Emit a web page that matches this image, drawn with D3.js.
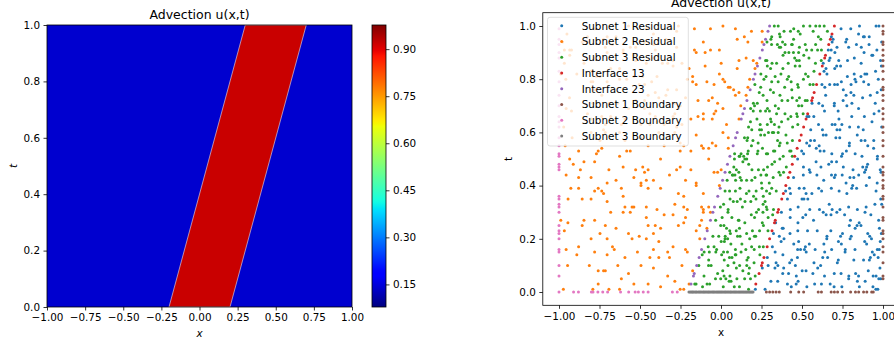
<!DOCTYPE html>
<html>
<head>
<meta charset="utf-8">
<script src="https://cdn.jsdelivr.net/npm/d3@7"></script>
<style>
  html, body { margin: 0; padding: 0; background: #ffffff; }
  svg { display: block; font-family: "DejaVu Sans", "Noto Sans", sans-serif; }
</style>
</head>
<body>
<svg id="fig" width="894" height="340"></svg>
<script>
// ---------------- data ----------------
const chartTitle = "Advection u(x,t)";
const xTicks = [-1, -0.75, -0.5, -0.25, 0, 0.25, 0.5, 0.75, 1];
const tTicks = [0, 0.2, 0.4, 0.6, 0.8, 1];
const colorbarTicks = [0.15, 0.30, 0.45, 0.60, 0.75, 0.90];
const colorRange = [0.078, 0.977];

// u(x,t): a square pulse advected to the right
const uBackground = 0.14;
const uPulse = 0.92;
const pulseCorners = [[-0.2, 0], [0.2, 0], [0.7, 1], [0.3, 1]];

// collocation points, [x, t]
const subnet1Residual = [
[0.212,0.01],[0.272,0.01],[0.308,0.04],[0.35,0.04],[0.41,0.03],[0.434,0.02],[0.464,0.03],[0.476,0.04],[0.53,0.02],[0.578,0.03],[0.62,0.03],[0.674,0.03],[0.698,0.02],[0.746,0.02],[0.788,0.05],[0.842,0.04],[0.854,0.02],[0.89,0.04],[0.938,0.02],[0.956,0.01],[0.968,0.01],[0.974,0.05],[0.986,0.05],
[0.255,0.09],[0.291,0.1],[0.333,0.09],[0.351,0.1],[0.381,0.07],[0.387,0.09],[0.417,0.07],[0.459,0.1],[0.465,0.06],[0.501,0.08],[0.525,0.08],[0.567,0.07],[0.597,0.09],[0.615,0.1],[0.639,0.06],[0.699,0.07],[0.741,0.07],[0.789,0.06],[0.831,0.07],[0.849,0.06],[0.909,0.08],[0.939,0.06],[0.957,0.06],[0.981,0.09],
[0.286,0.13],[0.334,0.15],[0.34,0.11],[0.382,0.14],[0.424,0.11],[0.436,0.12],[0.472,0.13],[0.526,0.15],[0.574,0.11],[0.628,0.13],[0.64,0.15],[0.658,0.13],[0.718,0.11],[0.724,0.12],[0.766,0.15],[0.82,0.12],[0.88,0.12],[0.916,0.12],[0.922,0.13],[0.934,0.15],[0.946,0.14],[0.97,0.13],
[0.317,0.17],[0.371,0.19],[0.389,0.2],[0.449,0.18],[0.473,0.16],[0.479,0.19],[0.491,0.16],[0.515,0.16],[0.521,0.17],[0.545,0.18],[0.581,0.16],[0.635,0.18],[0.653,0.2],[0.683,0.16],[0.725,0.19],[0.743,0.18],[0.767,0.16],[0.797,0.2],[0.827,0.16],[0.887,0.19],[0.899,0.18],[0.929,0.2],[0.965,0.16],[0.977,0.16],[0.983,0.19],
[0.324,0.22],[0.36,0.21],[0.378,0.24],[0.384,0.24],[0.426,0.22],[0.474,0.23],[0.534,0.23],[0.594,0.23],[0.654,0.21],[0.678,0.23],[0.738,0.21],[0.75,0.22],[0.792,0.25],[0.804,0.21],[0.828,0.24],[0.84,0.25],[0.864,0.25],[0.906,0.22],[0.918,0.21],[0.978,0.24],[0.99,0.22],
[0.337,0.26],[0.373,0.3],[0.427,0.28],[0.475,0.26],[0.505,0.28],[0.523,0.29],[0.571,0.27],[0.631,0.3],[0.649,0.29],[0.679,0.29],[0.715,0.3],[0.763,0.29],[0.799,0.27],[0.853,0.26],[0.889,0.3],[0.925,0.29],[0.973,0.27],
[0.41,0.35],[0.428,0.31],[0.476,0.32],[0.5,0.35],[0.512,0.35],[0.536,0.35],[0.548,0.31],[0.608,0.31],[0.668,0.33],[0.686,0.31],[0.734,0.31],[0.788,0.32],[0.842,0.31],[0.896,0.32],[0.95,0.33],[0.986,0.35],[0.992,0.33],
[0.399,0.38],[0.423,0.39],[0.429,0.37],[0.483,0.39],[0.513,0.39],[0.525,0.37],[0.561,0.37],[0.603,0.39],[0.621,0.38],[0.681,0.39],[0.729,0.38],[0.777,0.37],[0.807,0.39],[0.813,0.4],[0.837,0.39],[0.897,0.4],[0.957,0.38],
[0.448,0.43],[0.508,0.44],[0.55,0.45],[0.592,0.44],[0.634,0.42],[0.682,0.44],[0.7,0.43],[0.706,0.44],[0.748,0.44],[0.772,0.41],[0.796,0.43],[0.82,0.43],[0.85,0.44],[0.886,0.45],[0.916,0.43],[0.964,0.41],[0.988,0.45],
[0.473,0.5],[0.509,0.47],[0.545,0.46],[0.587,0.49],[0.617,0.47],[0.665,0.48],[0.683,0.49],[0.713,0.49],[0.755,0.47],[0.815,0.46],[0.875,0.47],[0.893,0.46],[0.899,0.47],[0.905,0.48],[0.965,0.5],[0.983,0.46],
[0.498,0.53],[0.51,0.52],[0.546,0.55],[0.588,0.54],[0.606,0.55],[0.612,0.53],[0.636,0.53],[0.684,0.52],[0.744,0.51],[0.75,0.52],[0.774,0.53],[0.792,0.55],[0.828,0.52],[0.87,0.51],[0.906,0.55],[0.942,0.54],[0.966,0.51],
[0.529,0.56],[0.553,0.57],[0.577,0.57],[0.631,0.59],[0.649,0.59],[0.709,0.58],[0.733,0.58],[0.793,0.56],[0.841,0.59],[0.865,0.57],[0.889,0.57],[0.943,0.57],
[0.554,0.61],[0.602,0.63],[0.626,0.61],[0.686,0.63],[0.704,0.63],[0.716,0.61],[0.728,0.65],[0.734,0.61],[0.746,0.63],[0.794,0.62],[0.848,0.62],[0.878,0.61],[0.932,0.64],[0.992,0.62],
[0.531,0.66],[0.543,0.66],[0.573,0.66],[0.627,0.7],[0.639,0.68],[0.699,0.7],[0.723,0.68],[0.777,0.7],[0.807,0.66],[0.849,0.69],[0.885,0.66],[0.945,0.67],[0.975,0.68],
[0.562,0.71],[0.604,0.71],[0.646,0.74],[0.7,0.71],[0.754,0.72],[0.772,0.74],[0.802,0.75],[0.808,0.71],[0.82,0.74],[0.874,0.73],[0.922,0.74],[0.952,0.71],[0.964,0.75],
[0.623,0.78],[0.641,0.77],[0.671,0.78],[0.701,0.78],[0.719,0.78],[0.743,0.79],[0.755,0.76],[0.803,0.78],[0.827,0.8],[0.833,0.79],[0.881,0.79],[0.911,0.78],[0.971,0.8],[0.989,0.76],
[0.636,0.83],[0.648,0.84],[0.654,0.82],[0.702,0.84],[0.714,0.85],[0.738,0.85],[0.78,0.81],[0.822,0.82],[0.864,0.81],[0.888,0.82],[0.9,0.82],[0.954,0.83],[0.99,0.85],
[0.631,0.86],[0.667,0.87],[0.673,0.88],[0.703,0.9],[0.727,0.87],[0.781,0.87],[0.823,0.88],[0.865,0.86],[0.883,0.9],[0.931,0.89],[0.937,0.89],[0.985,0.87],
[0.662,0.91],[0.68,0.91],[0.686,0.94],[0.692,0.95],[0.716,0.92],[0.77,0.94],[0.776,0.95],[0.788,0.92],[0.836,0.93],[0.866,0.92],[0.914,0.93],[0.962,0.91],[0.992,0.94],
[0.681,0.96],[0.741,0.99],[0.801,0.99],[0.849,0.97],[0.855,1],[0.879,0.96],[0.885,0.96],[0.915,0.96],[0.957,1],[0.975,1]
];

const subnet2Residual = [
[-0.973,0.01],[-0.791,0.01],[-0.758,0.03],[-0.692,0.01],[-0.626,0.01],[-0.615,0.05],[-0.538,0.03],[-0.45,0.03],[-0.373,0.02],[-0.285,0.04],[-0.252,0.01],[-0.23,0.01],[-0.197,0.03],
[-0.947,0.1],[-0.813,0.1],[-0.758,0.08],[-0.725,0.08],[-0.714,0.08],[-0.637,0.1],[-0.571,0.07],[-0.494,0.1],[-0.417,0.09],[-0.329,0.06],[-0.241,0.1],[-0.175,0.08],
[-0.89,0.14],[-0.78,0.15],[-0.703,0.14],[-0.593,0.13],[-0.516,0.15],[-0.439,0.13],[-0.384,0.13],[-0.329,0.15],[-0.318,0.13],[-0.208,0.15],
[-0.956,0.16],[-0.879,0.17],[-0.802,0.2],[-0.703,0.2],[-0.67,0.17],[-0.659,0.16],[-0.549,0.2],[-0.461,0.2],[-0.417,0.16],[-0.384,0.19],[-0.296,0.17],[-0.219,0.16],[-0.131,0.2],
[-0.967,0.23],[-0.857,0.25],[-0.747,0.22],[-0.714,0.25],[-0.648,0.24],[-0.571,0.22],[-0.505,0.21],[-0.45,0.25],[-0.417,0.22],[-0.406,0.25],[-0.373,0.24],[-0.263,0.25],[-0.153,0.23],[-0.131,0.25],[-0.087,0.24],
[-0.989,0.27],[-0.945,0.26],[-0.846,0.27],[-0.78,0.27],[-0.681,0.3],[-0.604,0.3],[-0.56,0.3],[-0.461,0.28],[-0.351,0.29],[-0.296,0.29],[-0.23,0.26],[-0.219,0.28],[-0.12,0.27],[-0.109,0.3],[-0.065,0.3],
[-0.944,0.35],[-0.857,0.35],[-0.802,0.35],[-0.703,0.34],[-0.593,0.32],[-0.549,0.32],[-0.538,0.32],[-0.461,0.32],[-0.395,0.31],[-0.285,0.33],[-0.23,0.32],[-0.208,0.31],[-0.12,0.32],[-0.109,0.31],[-0.076,0.32],
[-0.927,0.39],[-0.879,0.39],[-0.78,0.38],[-0.758,0.39],[-0.736,0.38],[-0.725,0.37],[-0.615,0.39],[-0.604,0.36],[-0.494,0.4],[-0.45,0.39],[-0.373,0.39],[-0.263,0.37],[-0.23,0.36],[-0.153,0.4],[-0.109,0.37],[-0.01,0.4],
[-0.956,0.44],[-0.879,0.43],[-0.802,0.43],[-0.703,0.41],[-0.648,0.42],[-0.538,0.43],[-0.494,0.41],[-0.472,0.45],[-0.461,0.42],[-0.417,0.42],[-0.318,0.44],[-0.219,0.42],[-0.153,0.41],[-0.043,0.45],[-0.021,0.45],
[-0.934,0.5],[-0.912,0.48],[-0.868,0.46],[-0.846,0.49],[-0.78,0.49],[-0.692,0.46],[-0.604,0.47],[-0.527,0.46],[-0.483,0.47],[-0.45,0.46],[-0.373,0.5],[-0.274,0.46],[-0.252,0.47],[-0.186,0.46],[-0.076,0.5],[0.001,0.46],
[-0.962,0.55],[-0.879,0.53],[-0.769,0.52],[-0.758,0.53],[-0.736,0.54],[-0.626,0.51],[-0.582,0.53],[-0.56,0.53],[-0.45,0.55],[-0.351,0.55],[-0.252,0.53],[-0.23,0.55],[-0.186,0.53],[-0.12,0.55],[-0.109,0.54],[-0.076,0.54],[-0.032,0.55],[0.045,0.54],
[-0.919,0.58],[-0.802,0.6],[-0.747,0.57],[-0.714,0.6],[-0.626,0.6],[-0.593,0.57],[-0.494,0.58],[-0.384,0.6],[-0.285,0.6],[-0.252,0.56],[-0.153,0.59],[-0.054,0.56],[0.012,0.6],[0.045,0.58],
[-0.971,0.62],[-0.802,0.65],[-0.725,0.61],[-0.714,0.63],[-0.615,0.63],[-0.593,0.65],[-0.494,0.63],[-0.439,0.63],[-0.395,0.64],[-0.351,0.63],[-0.274,0.62],[-0.241,0.63],[-0.186,0.65],[-0.109,0.65],[-0.054,0.65],[0.034,0.63],[0.111,0.65],
[-0.956,0.69],[-0.923,0.68],[-0.824,0.67],[-0.736,0.66],[-0.681,0.66],[-0.571,0.69],[-0.472,0.69],[-0.439,0.67],[-0.406,0.66],[-0.296,0.66],[-0.285,0.67],[-0.263,0.69],[-0.252,0.7],[-0.142,0.66],[-0.109,0.67],[-0.043,0.67],[-0.032,0.68],[0.012,0.69],[0.122,0.7],
[-0.935,0.73],[-0.791,0.71],[-0.736,0.74],[-0.692,0.71],[-0.637,0.71],[-0.527,0.72],[-0.472,0.72],[-0.45,0.74],[-0.406,0.75],[-0.384,0.73],[-0.34,0.74],[-0.285,0.71],[-0.219,0.73],[-0.142,0.72],[-0.076,0.72],[-0.054,0.73],[-0.021,0.71],[0.089,0.74],[0.111,0.75],[0.155,0.74],
[-0.958,0.8],[-0.802,0.79],[-0.791,0.79],[-0.78,0.76],[-0.703,0.79],[-0.626,0.8],[-0.582,0.8],[-0.505,0.78],[-0.472,0.78],[-0.428,0.79],[-0.329,0.76],[-0.274,0.76],[-0.208,0.8],[-0.175,0.79],[-0.153,0.78],[-0.087,0.79],[-0.043,0.78],[0.012,0.8],[0.023,0.79],[0.045,0.77],[0.056,0.77],[0.078,0.76],[0.166,0.77],[0.177,0.8],
[-0.989,0.82],[-0.89,0.82],[-0.802,0.83],[-0.791,0.83],[-0.769,0.81],[-0.747,0.81],[-0.681,0.84],[-0.626,0.84],[-0.538,0.81],[-0.483,0.81],[-0.395,0.81],[-0.296,0.85],[-0.197,0.84],[-0.175,0.81],[-0.098,0.85],[-0.01,0.82],[0.1,0.84],[0.21,0.84],
[-0.967,0.86],[-0.934,0.89],[-0.846,0.86],[-0.78,0.88],[-0.703,0.9],[-0.604,0.9],[-0.538,0.89],[-0.527,0.87],[-0.461,0.86],[-0.417,0.88],[-0.362,0.86],[-0.329,0.86],[-0.296,0.87],[-0.241,0.86],[-0.153,0.9],[-0.098,0.9],[0.001,0.86],[0.111,0.87],[0.155,0.88],[0.199,0.87],[0.221,0.86],
[-0.978,0.94],[-0.967,0.91],[-0.934,0.91],[-0.923,0.91],[-0.857,0.94],[-0.824,0.94],[-0.725,0.95],[-0.714,0.92],[-0.67,0.93],[-0.648,0.95],[-0.604,0.91],[-0.56,0.92],[-0.527,0.92],[-0.472,0.94],[-0.417,0.93],[-0.406,0.91],[-0.34,0.95],[-0.274,0.92],[-0.164,0.91],[-0.109,0.94],[-0.065,0.91],[-0.01,0.91],[0.1,0.95],[0.166,0.94],[0.254,0.94],
[-0.951,0.97],[-0.824,0.96],[-0.78,0.99],[-0.703,0.96],[-0.648,0.96],[-0.571,1],[-0.461,0.99],[-0.417,0.97],[-0.307,0.99],[-0.274,0.98],[-0.263,1],[-0.164,0.99],[-0.065,0.99],[0.012,1],[0.089,0.99],[0.144,0.96],[0.188,0.98],[0.254,0.98]
];

const subnet3Residual = [
[-0.162,0.03],[-0.154,0.03],[-0.114,0.02],[-0.086,0.03],[-0.07,0.03],[-0.034,0.05],[-0.002,0.05],[0.014,0.02],[0.03,0.05],[0.05,0.04],[0.062,0.04],[0.082,0.02],[0.098,0.05],[0.114,0.02],[0.146,0.05],[0.17,0.01],[0.182,0.05],
[-0.137,0.1],[-0.105,0.06],[-0.077,0.1],[-0.061,0.1],[-0.021,0.07],[0.011,0.08],[0.019,0.06],[0.043,0.1],[0.055,0.06],[0.095,0.09],[0.115,0.1],[0.135,0.08],[0.159,0.1],[0.171,0.07],[0.175,0.09],[0.211,0.06],
[-0.116,0.14],[-0.104,0.15],[-0.076,0.12],[-0.072,0.15],[-0.032,0.15],[0.004,0.14],[0.016,0.15],[0.02,0.12],[0.04,0.15],[0.052,0.13],[0.068,0.13],[0.08,0.11],[0.088,0.14],[0.092,0.14],[0.124,0.15],[0.16,0.12],[0.168,0.13],[0.204,0.11],[0.24,0.14],
[-0.079,0.17],[-0.043,0.17],[-0.027,0.16],[0.001,0.19],[0.021,0.19],[0.025,0.2],[0.041,0.2],[0.061,0.18],[0.089,0.16],[0.129,0.18],[0.153,0.16],[0.177,0.2],[0.189,0.17],[0.205,0.16],[0.237,0.17],[0.261,0.17],
[-0.05,0.21],[-0.014,0.21],[-0.002,0.25],[0.018,0.25],[0.026,0.21],[0.034,0.24],[0.054,0.23],[0.058,0.22],[0.094,0.23],[0.102,0.21],[0.114,0.24],[0.118,0.21],[0.158,0.22],[0.194,0.23],[0.206,0.21],[0.214,0.21],[0.238,0.23],[0.262,0.25],[0.29,0.23],
[-0.033,0.27],[0.007,0.28],[0.043,0.3],[0.067,0.28],[0.107,0.27],[0.111,0.27],[0.147,0.26],[0.187,0.29],[0.207,0.28],[0.219,0.3],[0.255,0.26],[0.259,0.3],[0.291,0.28],[0.319,0.29],
[-0.004,0.32],[0.016,0.33],[0.044,0.31],[0.056,0.35],[0.076,0.34],[0.1,0.34],[0.12,0.35],[0.132,0.32],[0.148,0.34],[0.184,0.34],[0.216,0.35],[0.232,0.31],[0.26,0.33],[0.272,0.34],[0.28,0.32],[0.284,0.31],[0.324,0.31],
[0.025,0.38],[0.053,0.38],[0.089,0.38],[0.117,0.39],[0.157,0.37],[0.173,0.38],[0.201,0.36],[0.217,0.38],[0.253,0.39],[0.261,0.36],[0.281,0.38],[0.301,0.37],[0.313,0.39],[0.341,0.38],
[0.038,0.42],[0.054,0.45],[0.07,0.44],[0.074,0.44],[0.086,0.44],[0.09,0.42],[0.11,0.45],[0.118,0.43],[0.126,0.42],[0.158,0.42],[0.19,0.42],[0.21,0.43],[0.246,0.44],[0.25,0.41],[0.278,0.44],[0.282,0.44],[0.298,0.41],[0.322,0.43],[0.358,0.45],[0.366,0.44],[0.386,0.45],
[0.079,0.47],[0.083,0.5],[0.095,0.46],[0.135,0.49],[0.147,0.5],[0.159,0.5],[0.171,0.48],[0.191,0.46],[0.231,0.46],[0.263,0.46],[0.287,0.47],[0.315,0.48],[0.331,0.49],[0.363,0.5],[0.403,0.47],
[0.084,0.52],[0.112,0.51],[0.116,0.51],[0.124,0.52],[0.14,0.51],[0.164,0.52],[0.168,0.53],[0.188,0.55],[0.224,0.52],[0.228,0.53],[0.256,0.54],[0.28,0.52],[0.288,0.52],[0.324,0.53],[0.332,0.53],[0.36,0.55],[0.384,0.51],[0.424,0.53],[0.432,0.53],[0.44,0.51],
[0.145,0.58],[0.161,0.57],[0.165,0.58],[0.197,0.57],[0.229,0.56],[0.245,0.59],[0.269,0.59],[0.293,0.6],[0.317,0.6],[0.325,0.6],[0.349,0.57],[0.353,0.6],[0.365,0.56],[0.401,0.59],[0.409,0.56],[0.441,0.57],
[0.17,0.62],[0.182,0.64],[0.19,0.61],[0.222,0.65],[0.238,0.61],[0.242,0.63],[0.25,0.61],[0.286,0.63],[0.306,0.65],[0.31,0.64],[0.33,0.63],[0.358,0.62],[0.374,0.64],[0.414,0.65],[0.442,0.62],[0.474,0.63],
[0.183,0.69],[0.199,0.68],[0.207,0.7],[0.243,0.68],[0.275,0.68],[0.287,0.69],[0.299,0.68],[0.335,0.7],[0.343,0.67],[0.355,0.69],[0.395,0.67],[0.431,0.66],[0.467,0.67],[0.471,0.66],[0.479,0.7],[0.499,0.7],[0.507,0.67],
[0.2,0.71],[0.224,0.71],[0.236,0.75],[0.26,0.74],[0.284,0.72],[0.324,0.75],[0.364,0.74],[0.376,0.72],[0.412,0.72],[0.44,0.73],[0.468,0.72],[0.484,0.73],[0.52,0.72],[0.532,0.72],
[0.209,0.78],[0.245,0.77],[0.265,0.8],[0.305,0.76],[0.313,0.79],[0.353,0.79],[0.393,0.77],[0.409,0.8],[0.433,0.79],[0.437,0.76],[0.473,0.78],[0.477,0.77],[0.509,0.8],[0.549,0.78],[0.569,0.78],
[0.246,0.82],[0.278,0.81],[0.286,0.85],[0.306,0.84],[0.334,0.81],[0.37,0.82],[0.382,0.84],[0.418,0.81],[0.458,0.85],[0.486,0.85],[0.522,0.82],[0.538,0.81],[0.574,0.83],
[0.275,0.87],[0.283,0.87],[0.315,0.86],[0.343,0.86],[0.383,0.89],[0.395,0.9],[0.415,0.86],[0.419,0.9],[0.447,0.9],[0.455,0.88],[0.467,0.87],[0.479,0.9],[0.483,0.87],[0.511,0.89],[0.543,0.88],[0.583,0.86],[0.619,0.87],
[0.284,0.94],[0.308,0.95],[0.312,0.93],[0.348,0.93],[0.36,0.92],[0.368,0.92],[0.38,0.94],[0.396,0.93],[0.436,0.93],[0.44,0.93],[0.448,0.95],[0.484,0.92],[0.52,0.93],[0.528,0.91],[0.56,0.91],[0.584,0.93],[0.596,0.91],[0.616,0.95],[0.62,0.91],
[0.313,0.96],[0.329,1],[0.353,1],[0.361,0.97],[0.365,0.96],[0.389,0.98],[0.429,0.98],[0.449,0.99],[0.477,0.98],[0.489,0.97],[0.509,1],[0.549,1],[0.569,0.98],[0.585,1],[0.601,0.96],[0.609,1],[0.637,1],[0.657,0.98]
];

const interface13 = [
[0.215,0.03],[0.235,0.07],[0.25,0.1],[0.255,0.11],[0.265,0.13],[0.285,0.17],[0.3,0.2],[0.315,0.23],[0.33,0.26],[0.335,0.27],[0.35,0.3],[0.355,0.31],[0.375,0.35],[0.385,0.37],[0.4,0.4],[0.415,0.43],[0.425,0.45],[0.44,0.48],[0.455,0.51],[0.47,0.54],[0.485,0.57],[0.495,0.59],[0.51,0.62],[0.525,0.65],[0.535,0.67],[0.56,0.72],[0.565,0.73],[0.575,0.75],[0.59,0.78],[0.61,0.82],[0.625,0.85],[0.64,0.88],[0.645,0.89],[0.665,0.93],[0.675,0.95],[0.685,0.97],[0.7,1]
];

const interface23 = [
[-0.185,0.03],[-0.17,0.06],[-0.165,0.07],[-0.15,0.1],[-0.135,0.13],[-0.12,0.16],[-0.1,0.2],[-0.085,0.23],[-0.065,0.27],[-0.05,0.3],[-0.04,0.32],[-0.02,0.36],[-0.005,0.39],[0.01,0.42],[0.025,0.45],[0.04,0.48],[0.055,0.51],[0.075,0.55],[0.09,0.58],[0.1,0.6],[0.125,0.65],[0.135,0.67],[0.145,0.69],[0.16,0.72],[0.18,0.76],[0.2,0.8],[0.21,0.82],[0.225,0.85],[0.24,0.88],[0.255,0.91],[0.265,0.93],[0.275,0.95],[0.29,0.98],[0.3,1]
];

const subnet1Boundary = [
[1,1],[1,0.98],[1,0.97],[1,0.94],[1,0.93],[1,0.91],[1,0.89],[1,0.87],[1,0.85],[1,0.83],[1,0.8],[1,0.77],[1,0.76],[1,0.74],[1,0.72],[1,0.69],[1,0.67],[1,0.65],[1,0.62],[1,0.6],[1,0.57],[1,0.55],[1,0.51],[1,0.47],[1,0.45],[1,0.44],[1,0.42],[1,0.4],[1,0.39],[1,0.36],[1,0.35],[1,0.32],[1,0.28],[1,0.27],[1,0.23],[1,0.22],[1,0.2],[1,0.17],[1,0.15],[1,0.11],[1,0.06],[1,0.05],
[0.28,0],[0.3,0],[0.32,0],[0.34,0],[0.36,0],[0.43,0],[0.48,0],[0.51,0],[0.6,0],[0.62,0],[0.68,0],[0.7,0],[0.72,0],[0.75,0],[0.8,0],[0.83,0],[0.85,0],[0.88,0],[0.9,0],[0.93,0],[0.94,0]
];

const subnet2Boundary = [
[-1,0.06],[-1,0.1],[-1,0.15],[-1,0.16],[-1,0.2],[-1,0.22],[-1,0.23],[-1,0.25],[-1,0.3],[-1,0.32],[-1,0.33],[-1,0.35],[-1,0.36],[-1,0.46],[-1,0.47],[-1,0.48],[-1,0.51],[-1,0.52],[-1,0.55],[-1,0.58],[-1,0.62],[-1,0.64],[-1,0.66],[-1,0.7],[-1,0.74],[-1,0.79],[-1,0.83],[-1,0.88],[-1,0.9],[-1,0.93],[-1,0.95],[-1,0.99],
[-1,0],[-0.91,0],[-0.88,0],[-0.8,0],[-0.79,0],[-0.76,0],[-0.73,0],[-0.7,0],[-0.62,0],[-0.57,0],[-0.53,0],[-0.51,0],[-0.48,0],[-0.45,0],[-0.3,0],[-0.27,0]
];

const subnet3Boundary = [
[-0.198,0],[-0.19,0],[-0.183,0],[-0.176,0],[-0.171,0],[-0.162,0],[-0.155,0],[-0.149,0],[-0.14,0],[-0.133,0],[-0.126,0],[-0.118,0],[-0.11,0],[-0.104,0],[-0.097,0],[-0.089,0],[-0.081,0],[-0.075,0],[-0.068,0],[-0.06,0],[-0.052,0],[-0.046,0],[-0.039,0],[-0.031,0],[-0.024,0],[-0.017,0],[-0.01,0],[-0.003,0],[0.004,0],[0.011,0],[0.019,0],[0.026,0],[0.032,0],[0.04,0],[0.047,0],[0.055,0],[0.061,0],[0.068,0],[0.076,0],[0.083,0],[0.09,0],[0.097,0],[0.105,0],[0.112,0],[0.119,0],[0.126,0],[0.134,0],[0.141,0],[0.148,0],[0.155,0],[0.162,0],[0.17,0],[0.177,0],[0.184,0],[0.191,0],[0.198,0]
];

const seriesNames = ["Subnet 1 Residual", "Subnet 2 Residual", "Subnet 3 Residual", "Interface 13",
                     "Interface 23", "Subnet 1 Boundary", "Subnet 2 Boundary", "Subnet 3 Boundary"];
const seriesColors = ["#1f77b4", "#ff7f0e", "#2ca02c", "#d62728", "#9467bd", "#8c564b", "#e377c2", "#7f7f7f"];
const seriesPoints = [subnet1Residual, subnet2Residual, subnet3Residual, interface13,
                      interface23, subnet1Boundary, subnet2Boundary, subnet3Boundary];

// ---------------- jet colormap ----------------
const jetR = d3.scaleLinear().domain([0, 0.35, 0.66, 0.89, 1]).range([0, 0, 1, 1, 0.5]).clamp(true);
const jetG = d3.scaleLinear().domain([0, 0.125, 0.375, 0.64, 0.91, 1]).range([0, 0, 1, 1, 0, 0]).clamp(true);
const jetB = d3.scaleLinear().domain([0, 0.11, 0.34, 0.65, 1]).range([0.5, 1, 1, 0, 0]).clamp(true);
const jet = n => d3.rgb(jetR(n) * 255, jetG(n) * 255, jetB(n) * 255).formatHex();
const norm = d3.scaleLinear().domain(colorRange).range([0, 1]).clamp(true);

// ---------------- figure ----------------
const svg = d3.select("#fig");
const FS = 10.4;           // tick / legend font size
const TITLE_FS = 12.5;
const DOT_R = 1.5;
const fmt2 = d3.format(".2f");
const fmt1 = d3.format(".1f");

function styleAxis(g) {
  g.select(".domain").remove();
  g.selectAll(".tick line").attr("stroke", "#000").attr("stroke-width", 0.8);
  g.selectAll(".tick text").attr("fill", "#000").style("font-size", FS + "px")
    .style("font-family", '"DejaVu Sans", sans-serif');
}

// ===== left panel: u(x,t) field =====
const L = { x0: 47, x1: 352, y0: 25, y1: 307 };
const xL = d3.scaleLinear().domain([-1, 1]).range([L.x0, L.x1]);
const tL = d3.scaleLinear().domain([0, 1]).range([L.y1, L.y0]);

const defs = svg.append("defs");
defs.append("clipPath").attr("id", "clipL")
  .append("rect").attr("x", L.x0).attr("y", L.y0).attr("width", L.x1 - L.x0).attr("height", L.y1 - L.y0);

const field = svg.append("g").attr("clip-path", "url(#clipL)");
field.append("rect")
  .attr("x", xL(-1)).attr("y", tL(1))
  .attr("width", xL(1) - xL(-1)).attr("height", tL(0) - tL(1))
  .attr("fill", jet(norm(uBackground)));
field.append("path")
  .datum(pulseCorners)
  .attr("d", d3.line().x(d => xL(d[0])).y(d => tL(d[1])).curve(d3.curveLinearClosed))
  .attr("fill", jet(norm(uPulse)))
  .attr("stroke", "#d8c4d2").attr("stroke-width", 0.7);

svg.append("rect").attr("x", L.x0).attr("y", L.y0).attr("width", L.x1 - L.x0).attr("height", L.y1 - L.y0)
  .attr("fill", "none").attr("stroke", "#000").attr("stroke-width", 0.8);

svg.append("g").attr("transform", `translate(0,${L.y1})`)
  .call(d3.axisBottom(xL).tickValues(xTicks).tickFormat(fmt2).tickSize(3.5).tickPadding(3.5))
  .call(styleAxis);
svg.append("g").attr("transform", `translate(${L.x0},0)`)
  .call(d3.axisLeft(tL).tickValues(tTicks).tickFormat(fmt1).tickSize(3.5).tickPadding(3.5))
  .call(styleAxis);

svg.append("text").attr("x", (L.x0 + L.x1) / 2).attr("y", 19).attr("text-anchor", "middle")
  .style("font-size", TITLE_FS + "px").text(chartTitle);
svg.append("text").attr("x", (L.x0 + L.x1) / 2).attr("y", 337).attr("text-anchor", "middle")
  .style("font-size", FS + "px").style("font-style", "italic").text("x");
svg.append("text").attr("transform", `translate(17,${(L.y0 + L.y1) / 2}) rotate(-90)`)
  .attr("text-anchor", "middle").style("font-size", FS + "px").style("font-style", "italic").text("t");

// colorbar
const CB = { x0: 372, x1: 386 };
const cbScale = d3.scaleLinear().domain(colorRange).range([L.y1, L.y0]);
const grad = defs.append("linearGradient").attr("id", "jetGrad")
  .attr("x1", 0).attr("y1", 1).attr("x2", 0).attr("y2", 0);
d3.range(0, 1.0001, 0.01).forEach(s => {
  grad.append("stop").attr("offset", s).attr("stop-color", jet(s));
});
svg.append("rect").attr("x", CB.x0).attr("y", L.y0).attr("width", CB.x1 - CB.x0).attr("height", L.y1 - L.y0)
  .attr("fill", "url(#jetGrad)").attr("stroke", "#000").attr("stroke-width", 0.8);
svg.append("g").attr("transform", `translate(${CB.x1},0)`)
  .call(d3.axisRight(cbScale).tickValues(colorbarTicks).tickFormat(fmt2).tickSize(3.5).tickPadding(3.5))
  .call(styleAxis);

// ===== right panel: collocation points =====
const R = { x0: 542.8, x1: 899.2, y0: 12.7, y1: 305.3 };
const xR = d3.scaleLinear().domain([-1.1, 1.1]).range([R.x0, R.x1]);
const tR = d3.scaleLinear().domain([-0.05, 1.05]).range([R.y1, R.y0]);

const pts = svg.append("g");
seriesPoints.forEach((arr, i) => {
  pts.append("g").selectAll("circle").data(arr).join("circle")
    .attr("cx", d => xR(d[0])).attr("cy", d => tR(d[1])).attr("r", DOT_R)
    .attr("fill", seriesColors[i]);
});

svg.append("rect").attr("x", R.x0).attr("y", R.y0).attr("width", R.x1 - R.x0).attr("height", R.y1 - R.y0)
  .attr("fill", "none").attr("stroke", "#000").attr("stroke-width", 0.8);
svg.append("g").attr("transform", `translate(0,${R.y1})`)
  .call(d3.axisBottom(xR).tickValues(xTicks).tickFormat(fmt2).tickSize(3.5).tickPadding(3.5))
  .call(styleAxis);
svg.append("g").attr("transform", `translate(${R.x0},0)`)
  .call(d3.axisLeft(tR).tickValues(tTicks).tickFormat(fmt1).tickSize(3.5).tickPadding(3.5))
  .call(styleAxis);

svg.append("text").attr("x", (R.x0 + R.x1) / 2).attr("y", 7).attr("text-anchor", "middle")
  .style("font-size", TITLE_FS + "px").text(chartTitle);
svg.append("text").attr("x", xR(0)).attr("y", 336).attr("text-anchor", "middle")
  .style("font-size", FS + "px").text("x");
svg.append("text").attr("transform", `translate(512,${(R.y0 + R.y1) / 2}) rotate(-90)`)
  .attr("text-anchor", "middle").style("font-size", FS + "px").text("t");

// legend
const LG = { x: 547.5, y: 17.3, w: 140.8, h: 128.7, row0: 25.8, step: 15.75 };
const legend = svg.append("g");
legend.append("rect").attr("x", LG.x).attr("y", LG.y).attr("width", LG.w).attr("height", LG.h)
  .attr("rx", 2.5).attr("fill", "#fff").attr("fill-opacity", 0.8)
  .attr("stroke", "#cccccc").attr("stroke-opacity", 0.8).attr("stroke-width", 0.8);
seriesNames.forEach((name, i) => {
  const y = LG.row0 + i * LG.step;
  legend.append("circle").attr("cx", 561.7).attr("cy", y).attr("r", DOT_R).attr("fill", seriesColors[i]);
  legend.append("text").attr("x", 581.7).attr("y", y).attr("dy", "0.36em")
    .style("font-size", FS + "px").attr("fill", "#000").text(name);
});
</script>
</body>
</html>
